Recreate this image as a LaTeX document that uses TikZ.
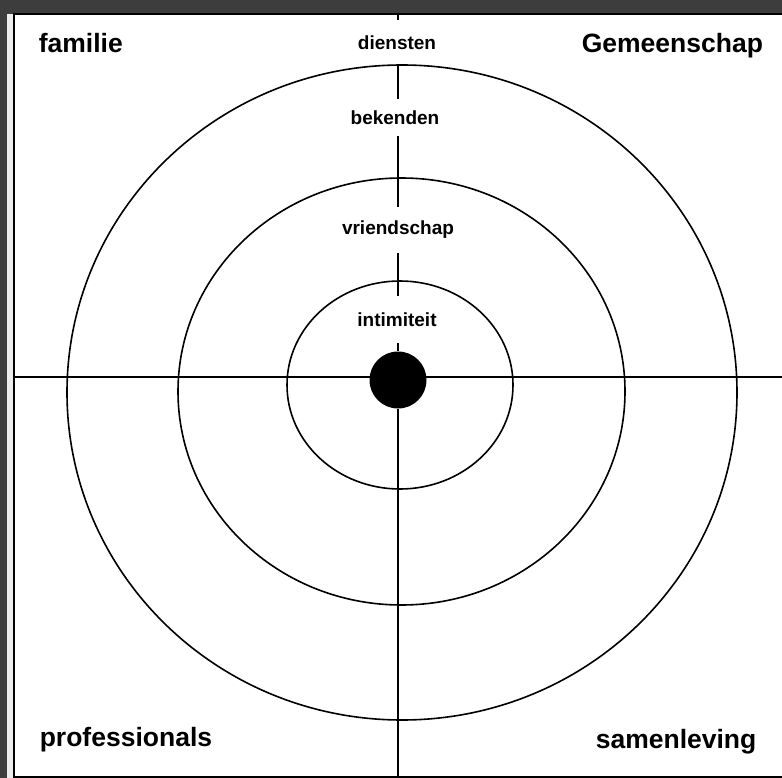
\documentclass[tikz,border=0pt]{standalone}
\usepackage{fontspec}
\setmainfont{Liberation Sans}
\usepackage{tikz}
\definecolor{frame}{HTML}{3D3D3D}

\begin{document}
\begin{tikzpicture}[x = 1pt, y = -1pt, line width = 1.6pt,
                        corner/.style = {anchor = base west, inner sep = 0pt, font = \fontsize{26.5}{30}\selectfont\bfseries},
                        ring/.style = {inner sep = 0pt, minimum height = 44pt, font = \fontsize{19}{22}\selectfont\bfseries},
                        dot/.style = {circle, fill = black, inner sep = 0pt, minimum size = 57pt}]
      \useasboundingbox (0, 0) rectangle (782, 778);
      \fill [frame] (0, 0) rectangle (782, 778);
      \fill [gray!15] (7, 14) rectangle (14, 778);
      \filldraw [fill = white, draw = black] (14, 14) rectangle (790, 777);

      \draw (402, 392.5) ellipse [x radius = 335pt, y radius = 327.5pt];
      \draw (401.5, 391.5) ellipse [x radius = 223.5pt, y radius = 213.5pt];
      \draw (400, 385) ellipse [x radius = 113pt, y radius = 104pt];

      \coordinate (top) at (398, 14);
      \coordinate (bottom) at (398, 777);
      \coordinate (west) at (14, 377);
      \coordinate (east) at (782, 377);

      \node [ring] (diensten) at (397, 43) {diensten};
      \node [ring, minimum height = 35pt] (bekenden) at (395, 117.5) {bekenden};
      \node [ring] (vriendschap) at (398, 230) {vriendschap};
      \node [ring, minimum height = 45pt] (intimiteit) at (397, 319.5) {intimiteit};
      \node [dot] (ik) at (398, 380) {};

      \draw (west) -- (east);
      \draw (top) -- (top |- diensten.north) (diensten.south -| top) -- (bekenden.north -| top)
            (bekenden.south -| top) -- (vriendschap.north -| top) (vriendschap.south -| top) -- (intimiteit.north -| top)
            (intimiteit.south -| top) -- (ik) -- (bottom);

      \node [corner] (familie) at (38, 53) {familie};
      \node [corner] (gemeenschap) at (581, 53) {Gemeenschap};
      \node [corner] (professionals) at (39, 746) {professionals};
      \node [corner] (samenleving) at (595, 748) {samenleving};

      \end{tikzpicture}
\end{document}
